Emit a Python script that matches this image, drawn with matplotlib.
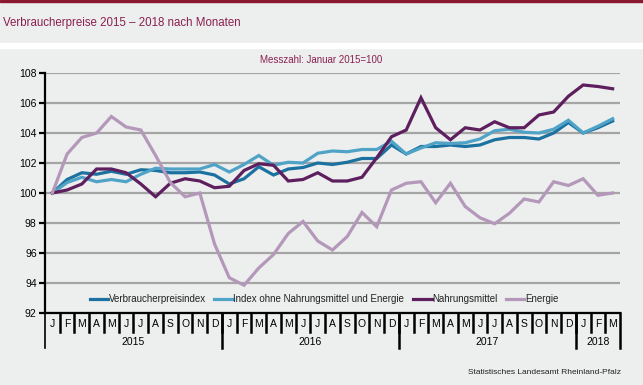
import matplotlib
matplotlib.use("Agg")
import matplotlib.pyplot as plt
import matplotlib.transforms as mtransforms
from matplotlib.patches import Rectangle
import numpy as np

plt.rcParams['font.family'] = ['Liberation Sans', 'DejaVu Sans']

months = ["J", "F", "M", "A", "M", "J", "J", "A", "S", "O", "N", "D"] * 3 + ["J", "F", "M"]
years = ["2015", "2016", "2017", "2018"]
year_lengths = [12, 12, 12, 3]

verbraucherpreisindex = [100.0, 100.9, 101.35, 101.25, 101.45, 101.25, 101.55, 101.5, 101.35, 101.35, 101.4, 101.2,
                         100.6, 100.95, 101.75, 101.2, 101.6, 101.7, 102.0, 101.9, 102.05, 102.3, 102.3, 103.2,
                         102.6, 103.1, 103.1, 103.2, 103.1, 103.2, 103.55, 103.7, 103.7, 103.6, 104.0, 104.7,
                         104.0, 104.35, 104.8]
index_ohne = [100.0, 100.7, 101.05, 100.75, 100.9, 100.75, 101.25, 101.65, 101.6, 101.6, 101.6, 101.9,
              101.4, 101.9, 102.5, 101.85, 102.05, 102.0, 102.65, 102.8, 102.75, 102.9, 102.9, 103.45,
              102.6, 103.0, 103.35, 103.3, 103.35, 103.6, 104.15, 104.25, 104.05, 104.0, 104.25, 104.85,
              104.0, 104.45, 104.95]
nahrungsmittel = [100.0, 100.2, 100.6, 101.6, 101.6, 101.35, 100.6, 99.75, 100.65, 100.95, 100.8, 100.35,
                  100.45, 101.5, 101.95, 101.85, 100.8, 100.9, 101.35, 100.8, 100.8, 101.05, 102.35, 103.75,
                  104.2, 106.35, 104.35, 103.55, 104.35, 104.2, 104.75, 104.35, 104.35, 105.2, 105.4, 106.45,
                  107.2, 107.1, 106.95]
energie = [100.0, 102.6, 103.7, 104.0, 105.1, 104.4, 104.2, 102.5, 100.7, 99.75, 100.0, 96.6,
           94.35, 93.85, 95.0, 95.9, 97.3, 98.1, 96.8, 96.2, 97.1, 98.7, 97.75, 100.2,
           100.65, 100.75, 99.35, 100.65, 99.1, 98.35, 97.95, 98.65, 99.6, 99.4, 100.75, 100.5,
           100.95, 99.85, 100.0]

series = [
    ("Verbraucherpreisindex", verbraucherpreisindex, "#1B72A0"),
    ("Index ohne Nahrungsmittel und Energie", index_ohne, "#4FA3C7"),
    ("Nahrungsmittel", nahrungsmittel, "#5E1F5E"),
    ("Energie", energie, "#B498BA"),
]

W, H = 643, 385
fig = plt.figure(figsize=(W / 100, H / 100), dpi=100)
bg = "#EDEEEE"
fig.patch.set_facecolor(bg)

def fy(py):
    return 1 - py / H

# top bar, title band, white gap
fig.patches.append(Rectangle((0, fy(2)), 1, 2 / H, transform=fig.transFigure, color="#8B1A30", zorder=0))
fig.patches.append(Rectangle((0, fy(48)), 1, 5 / H, transform=fig.transFigure, color="white", zorder=0))

fig.text(3 / W, fy(23), "Verbraucherpreise 2015 \u2013 2018 nach Monaten", color="#8B2050",
         fontsize=8.3, va="center", ha="left")
fig.text(321 / W, fy(60), "Messzahl: Januar 2015=100", color="#8B2050",
         fontsize=7, va="center", ha="center")
fig.text(621 / W, fy(373), "Statistisches Landesamt Rheinland-Pfalz", color="#222222",
         fontsize=6, va="center", ha="right")

ax = fig.add_axes([45 / W, fy(313), (620 - 45) / W, (313 - 73) / H])
ax.set_facecolor(bg)
n = len(months)
x = np.arange(n)
for name, vals, col in series:
    ax.plot(x, vals, color=col, lw=2.3, label=name, solid_joinstyle="miter", zorder=3)

ax.set_xlim(-0.5, n - 0.5)
ax.set_ylim(92, 108)
ax.set_yticks(np.arange(92, 109, 2))
ax.yaxis.grid(True, color="#A5A5A5", lw=1.6)
ax.set_axisbelow(True)
for s in ["top", "right"]:
    ax.spines[s].set_visible(False)
ax.spines["left"].set_linewidth(1.6)
ax.spines["bottom"].set_linewidth(1.6)
ax.tick_params(axis="y", length=4, width=1.6, labelsize=7.5, pad=2, colors="black")
ax.set_xticks([])

trans = mtransforms.blended_transform_factory(ax.transData, ax.transAxes)
ph = (313 - 73)  # axes height px
def ay(py):
    return (313 - py) / ph

# month letters and separators
for i, m in enumerate(months):
    ax.text(i, ay(324), m, transform=trans, ha="center", va="center", fontsize=7.5)
for i in range(1, n):
    ax.plot([i - 0.5, i - 0.5], [0, ay(332)], transform=trans, color="black", lw=1.8, clip_on=False)
# year boundaries and labels
start = 0
bounds = [0]
for yl, ln in zip(years, year_lengths):
    ax.text(start + (ln - 1) / 2, ay(342), yl, transform=trans, ha="center", va="center", fontsize=7.5)
    start += ln
    bounds.append(start)
for b in bounds:
    lw = 1.2 if b == 0 else 1.8
    ax.plot([b - 0.5, b - 0.5], [0, ay(348)], transform=trans, color="black", lw=lw, clip_on=False)

leg = ax.legend(loc="center", bbox_to_anchor=(((324 - 45) / (620 - 45)), ay(299)), ncol=4, frameon=False,
                fontsize=7, handlelength=1.9, handletextpad=0.05, columnspacing=0.9,
                borderaxespad=0, borderpad=0)
for t in leg.get_texts():
    t.set_color("#222222")

fig.savefig("out.png", dpi=100, facecolor=fig.get_facecolor())
